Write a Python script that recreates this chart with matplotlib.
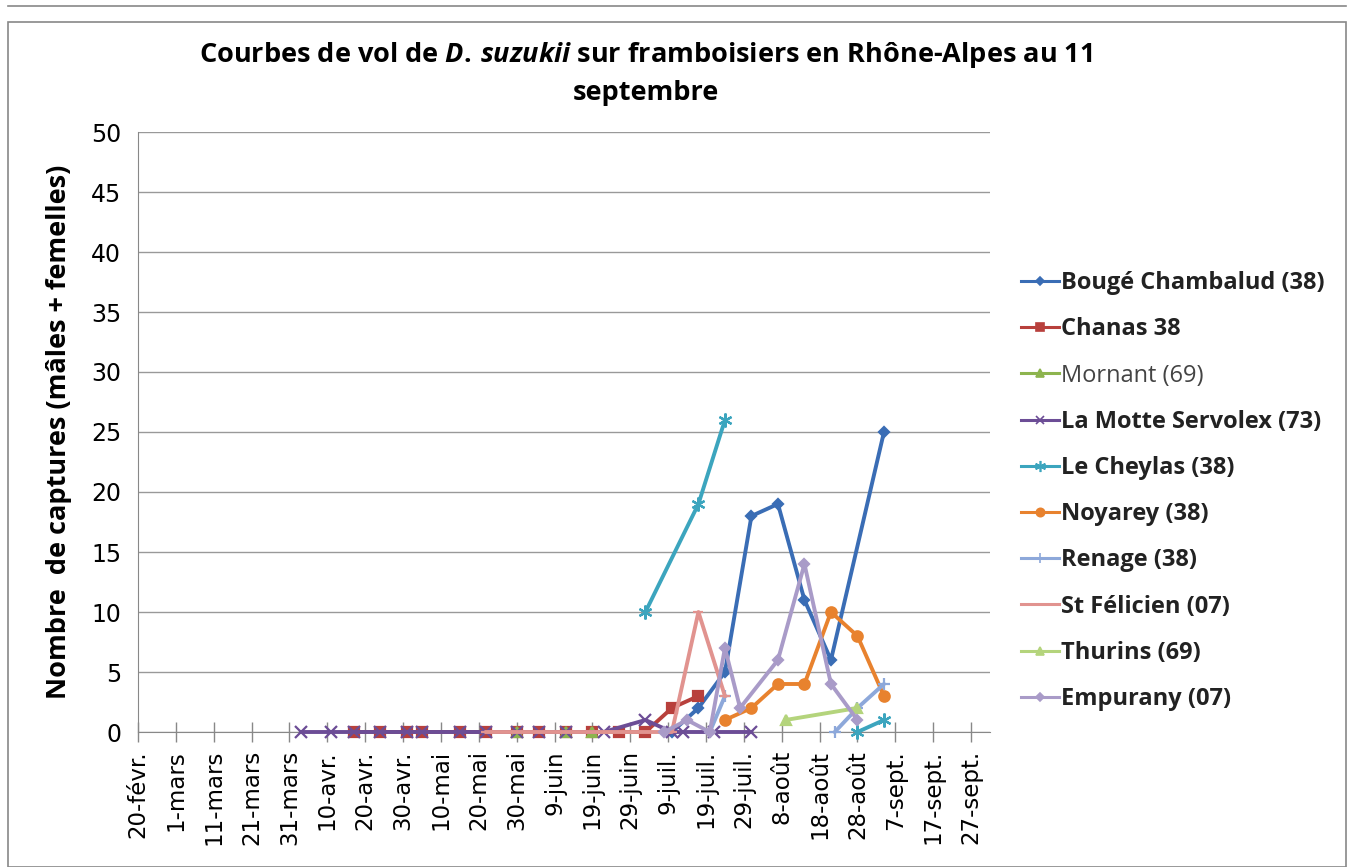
import numpy as np
import matplotlib
matplotlib.use('Agg')
import matplotlib.pyplot as plt
from matplotlib.patches import Rectangle
from matplotlib.lines import Line2D

plt.rcParams['font.family'] = ['DejaVu Sans']
plt.rcParams['mathtext.fontset'] = 'custom'
plt.rcParams['mathtext.it'] = 'Open Sans:italic:bold'
plt.rcParams['mathtext.rm'] = 'Open Sans:bold'

# data (2012, weekly trap counts)
bouge_dates = ['2012-07-10', '2012-07-17', '2012-07-24', '2012-07-31', '2012-08-07',
               '2012-08-14', '2012-08-21', '2012-09-04']
bouge_vals = [0, 2, 5, 18, 19, 11, 6, 25]

chanas_dates = ['2012-04-17', '2012-04-24', '2012-05-01', '2012-05-05', '2012-05-15',
                '2012-05-22', '2012-05-30', '2012-06-05', '2012-06-12', '2012-06-19',
                '2012-06-26', '2012-07-03', '2012-07-10', '2012-07-17']
chanas_vals = [0, 0, 0, 0, 0, 0, 0, 0, 0, 0, 0, 0, 2, 3]

mornant_dates = ['2012-05-30', '2012-06-12', '2012-06-19']
mornant_vals = [0, 0, 0]

motte_dates = ['2012-04-03', '2012-04-11', '2012-04-17', '2012-04-24', '2012-05-01',
               '2012-05-05', '2012-05-15', '2012-05-22', '2012-05-30', '2012-06-05',
               '2012-06-12', '2012-06-22', '2012-07-03', '2012-07-10', '2012-07-13',
               '2012-07-21', '2012-07-31']
motte_vals = [0, 0, 0, 0, 0, 0, 0, 0, 0, 0, 0, 0, 1, 0, 0, 0, 0]

cheylas_dates = ['2012-07-03', '2012-07-17', '2012-07-24', '2012-08-07', '2012-08-28',
                 '2012-09-04']
cheylas_vals = [10, 19, 26, np.nan, 0, 1]

noyarey_dates = ['2012-07-24', '2012-07-31', '2012-08-07', '2012-08-14', '2012-08-21',
                 '2012-08-28', '2012-09-04']
noyarey_vals = [1, 2, 4, 4, 10, 8, 3]

renage_dates = ['2012-07-20', '2012-07-24', '2012-08-07', '2012-08-22', '2012-08-28',
                '2012-09-04']
renage_vals = [0, 3, np.nan, 0, 2, 4]

felicien_dates = ['2012-05-22', '2012-05-30', '2012-06-05', '2012-06-12', '2012-06-19',
                  '2012-06-26', '2012-07-03', '2012-07-10', '2012-07-17', '2012-07-24']
felicien_vals = [0, 0, 0, 0, 0, 0, 0, 0, 10, 3]

thurins_dates = ['2012-08-09', '2012-08-28']
thurins_vals = [1, 2]

empurany_dates = ['2012-07-08', '2012-07-14', '2012-07-20', '2012-07-24', '2012-07-28',
                  '2012-08-07', '2012-08-14', '2012-08-21', '2012-08-28']
empurany_vals = [0, 1, 0, 7, 2, 6, 14, 4, 1]

tick_labels = ['20-févr.', '1-mars', '11-mars', '21-mars', '31-mars', '10-avr.', '20-avr.',
               '30-avr.', '10-mai', '20-mai', '30-mai', '9-juin', '19-juin', '29-juin',
               '9-juil.', '19-juil.', '29-juil.', '8-août', '18-août', '28-août',
               '7-sept.', '17-sept.', '27-sept.']

series = [
    ('Bougé Chambalud (38)', bouge_dates, bouge_vals, '#3A6DB5', 'D', 5.5, 'bold'),
    ('Chanas 38', chanas_dates, chanas_vals, '#B8403C', 's', 6.5, 'bold'),
    ('Mornant (69)', mornant_dates, mornant_vals, '#8DB44E', '^', 6.5, 'normal'),
    ('La Motte Servolex (73)', motte_dates, motte_vals, '#6C4D96', 'x', 8, 'bold'),
    ('Le Cheylas (38)', cheylas_dates, cheylas_vals, '#3CA5BE', (6, 2, 0), 10, 'bold'),
    ('Noyarey (38)', noyarey_dates, noyarey_vals, '#E8822E', 'o', 7.5, 'bold'),
    ('Renage (38)', renage_dates, renage_vals, '#8DA8DA', '+', 9, 'bold'),
    ('St Félicien (07)', felicien_dates, felicien_vals, '#E1938F', '_', 7, 'bold'),
    ('Thurins (69)', thurins_dates, thurins_vals, '#B4D47C', '^', 7, 'bold'),
    ('Empurany (07)', empurany_dates, empurany_vals, '#A99BC8', 'D', 5.5, 'bold'),
]

fig = plt.figure(figsize=(13.54, 8.67), dpi=100)
ax = fig.add_axes([138 / 1354, 1 - 732 / 867, (990 - 138) / 1354, 600 / 867])

handles = []
for name, d, v, col, mk, ms, w in series:
    x = np.array(d, dtype='datetime64[D]')
    ax.plot(x, v, color=col, lw=2.8, marker=mk, ms=ms, mew=1.6, mfc=col, mec=col,
            clip_on=False, zorder=3)
    handles.append(Line2D([0], [0], color=col, lw=2.2, marker=mk, ms=ms * 0.8, mew=1.2,
                          mfc=col, mec=col))

start = np.datetime64('2012-02-20')
ticks = start + np.arange(len(tick_labels)) * 10
ax.set_xlim(start, np.datetime64('2012-10-02'))
ax.set_xticks(ticks)
ax.set_xticklabels(tick_labels, rotation=90, fontsize=16.5)
ax.set_ylim(0, 50)
ax.set_yticks(range(0, 51, 5))
ax.tick_params(axis='y', length=0, pad=12, labelsize=17)
ax.tick_params(axis='x', direction='inout', length=14, width=1, color='#888888', pad=6)
ax.grid(axis='y', color='#999999', lw=1)
ax.set_axisbelow(True)
for s in ['top', 'right']:
    ax.spines[s].set_visible(False)
for s in ['left', 'bottom']:
    ax.spines[s].set_color('#888888')

ax.set_ylabel('Nombre  de captures (mâles + femelles)', fontsize=19.5, fontweight='bold',
              family='Open Sans', labelpad=14)

fig.text(646 / 1354, 1 - 55 / 867,
         r'Courbes de vol de $D.\,suzukii$ sur framboisiers en Rhône-Alpes au 11',
         ha='center', va='center', fontsize=19.5, fontweight='bold', family='Open Sans')
fig.text(646 / 1354, 1 - 93 / 867, 'septembre', ha='center', va='center',
         fontsize=19.5, fontweight='bold', family='Open Sans')

leg = fig.legend(handles, [s[0] for s in series], loc='upper left',
                 bbox_to_anchor=(1000 / 1354, 1 - 250 / 867), frameon=False,
                 handlelength=1.6, handletextpad=0.1, labelspacing=0.94,
                 prop={'family': 'Open Sans', 'size': 17, 'weight': 'bold'})
for t, s in zip(leg.get_texts(), series):
    t.set_fontweight(s[6])
    t.set_color('#222222' if s[6] == 'bold' else '#444444')

fig.patches.append(Rectangle((8 / 1354, 0), 1338 / 1354, 845 / 867, transform=fig.transFigure,
                             fill=False, edgecolor='#888888', lw=1.2))
fig.add_artist(Line2D([8 / 1354, 1346 / 1354], [1 - 6 / 867, 1 - 6 / 867],
                      transform=fig.transFigure, color='#888888', lw=1.2))

fig.savefig('out.png', dpi=100)
